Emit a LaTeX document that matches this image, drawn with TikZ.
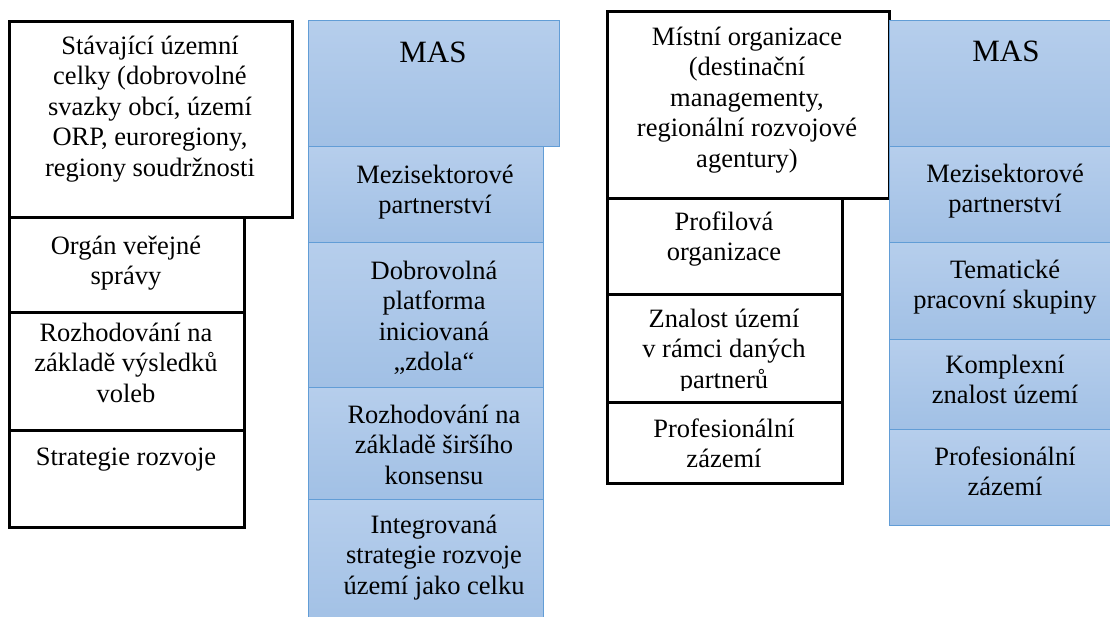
\documentclass[tikz,border=0pt]{standalone}
\usepackage{fontspec}
\setmainfont{Liberation Serif}
\usepackage{xcolor}
\usetikzlibrary{positioning}

\definecolor{bluetop}{RGB}{182,206,236}
\definecolor{bluebot}{RGB}{161,192,229}
\definecolor{blueline}{RGB}{98,157,214}

\newcommand{\ts}{\rule{0pt}{21pt}}

\tikzset{
  whitebox/.style={draw=black, line width=2.6pt, fill=white, anchor=north west, inner sep=0pt},
  bluebox/.style={draw=blueline, line width=1.4pt, top color=bluetop, bottom color=bluebot, anchor=north west, inner sep=0pt},
  txt/.style={anchor=north, align=center, inner sep=0pt, font=\fontsize{26.5}{30.5}\selectfont},
  bigtxt/.style={anchor=base, inner sep=0pt, font=\fontsize{31}{36}\selectfont},
}

\begin{document}
\begin{tikzpicture}[x=1pt, y=-1pt]
  \useasboundingbox (0, 0) rectangle (1110, 617);
  \clip (0, 0) rectangle (1110, 617);

  % existing territorial units
  \node[whitebox, minimum width=283pt, minimum height=196pt] (celky) at (8, 20) {};
  \node[whitebox, minimum width=235pt, minimum height=95pt] (organ) at (8, 216) {};
  \node[whitebox, minimum width=235pt, minimum height=118pt] (volby) at (8, 311) {};
  \node[whitebox, minimum width=235pt, minimum height=97pt] (strat) at (8, 429) {};

  \node[txt] (celkyT) at (150, 33) {\ts Stávající územní\\celky (dobrovolné\\svazky obcí, území\\ORP, euroregiony,\\regiony soudržnosti};
  \node[txt] (organT) at (126, 233) {\ts Orgán veřejné\\správy};
  \node[txt] (volbyT) at (126, 320) {\ts Rozhodování na\\základě výsledků\\voleb};
  \node[txt] (stratT) at (126, 444) {\ts Strategie rozvoje};

  % MAS, first comparison
  \node[bluebox, minimum width=251pt, minimum height=126pt] (masA) at (308, 20) {};
  \node[bluebox, minimum width=235pt, minimum height=96pt] (meziA) at (308, 146) {};
  \node[bluebox, minimum width=235pt, minimum height=145pt] (platf) at (308, 242) {};
  \node[bluebox, minimum width=235pt, minimum height=112pt] (konsens) at (308, 387) {};
  \node[bluebox, minimum width=235pt, minimum height=131pt] (integ) at (308, 499) {};

  \node[bigtxt] (masAT) at (433, 63) {MAS};
  \node[txt] (meziAT) at (435, 162) {\ts Mezisektorové\\partnerství};
  \node[txt] (platfT) at (434, 258) {\ts Dobrovolná\\platforma\\iniciovaná\\„zdola“};
  \node[txt] (konsensT) at (434, 402) {\ts Rozhodování na\\základě širšího\\konsensu};
  \node[txt] (integT) at (434, 512) {\ts Integrovaná\\strategie rozvoje\\území jako celku};

  % local organisations
  \node[whitebox, minimum width=282pt, minimum height=187pt] (mistni) at (606, 10) {};
  \node[whitebox, minimum width=235pt, minimum height=96pt] (profil) at (606, 197) {};
  \node[whitebox, minimum width=235pt, minimum height=108pt] (znalost) at (606, 293) {};
  \node[whitebox, minimum width=235pt, minimum height=81pt] (zazemiA) at (606, 401) {};

  \node[txt] (mistniT) at (747, 24) {\ts Místní organizace\\(destinační\\managementy,\\regionální rozvojové\\agentury)};
  \node[txt] (profilT) at (724, 209) {\ts Profilová\\organizace};
  \begin{scope}
    \clip (606, 293) rectangle (841, 390);
    \node[txt] (znalostT) at (724, 306) {\ts Znalost území\\v rámci daných\\partnerů};
  \end{scope}
  \node[txt] (zazemiAT) at (724, 416) {\ts Profesionální\\zázemí};

  % MAS, second comparison
  \node[bluebox, minimum width=232pt, minimum height=126pt] (masB) at (889, 20) {};
  \node[bluebox, minimum width=232pt, minimum height=96pt] (meziB) at (889, 146) {};
  \node[bluebox, minimum width=232pt, minimum height=97pt] (temat) at (889, 242) {};
  \node[bluebox, minimum width=232pt, minimum height=90pt] (komplex) at (889, 339) {};
  \node[bluebox, minimum width=232pt, minimum height=96pt] (zazemiB) at (889, 429) {};

  \node[bigtxt] (masBT) at (1006, 62) {MAS};
  \node[txt] (meziBT) at (1005, 161) {\ts Mezisektorové\\partnerství};
  \node[txt] (tematT) at (1005, 257) {\ts Tematické\\pracovní skupiny};
  \node[txt] (komplexT) at (1005, 352) {\ts Komplexní\\znalost území};
  \node[txt] (zazemiBT) at (1005, 444) {\ts Profesionální\\zázemí};
\end{tikzpicture}
\end{document}
